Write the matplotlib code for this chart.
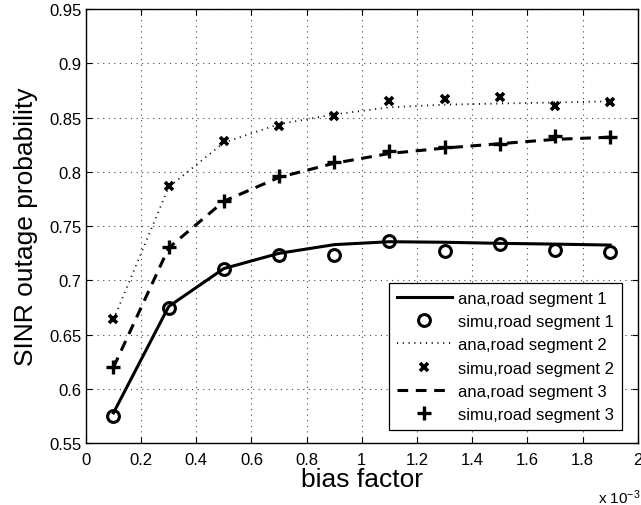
import matplotlib
matplotlib.use("Agg")
import matplotlib.pyplot as plt
from matplotlib.ticker import FormatStrFormatter, MultipleLocator

plt.rcParams["font.family"] = ["Liberation Sans", "DejaVu Sans"]
plt.rcParams["mathtext.default"] = "regular"

# bias factor in units of 1e-3
bias_factor = [0.1, 0.3, 0.5, 0.7, 0.9, 1.1, 1.3, 1.5, 1.7, 1.9]

ana_seg1 = [0.578, 0.676, 0.711, 0.725, 0.733, 0.7357, 0.7352, 0.7342, 0.7335, 0.7326]
simu_seg1 = [0.5754, 0.675, 0.711, 0.7234, 0.7234, 0.7363, 0.7271, 0.7339, 0.7277, 0.7265]
ana_seg2 = [0.664, 0.786, 0.827, 0.844, 0.853, 0.8595, 0.862, 0.863, 0.864, 0.865]
simu_seg2 = [0.6643, 0.787, 0.8289, 0.842, 0.8512, 0.8657, 0.8675, 0.8689, 0.8604, 0.8645]
ana_seg3 = [0.620, 0.730, 0.773, 0.795, 0.808, 0.817, 0.822, 0.826, 0.830, 0.832]
simu_seg3 = [0.6199, 0.7305, 0.773, 0.796, 0.809, 0.819, 0.8227, 0.8261, 0.8329, 0.8323]

fig = plt.figure(figsize=(6.41, 5.06), dpi=100)
ax = fig.add_axes([0.134, 0.122, 0.861, 0.858])

ax.plot(bias_factor, ana_seg1, "k-", lw=2.2, label="ana,road segment 1")
ax.plot(bias_factor, simu_seg1, "ko", ls="none", ms=8.5, mfc="none", mew=2.2,
        label="simu,road segment 1")
ax.plot(bias_factor, ana_seg2, "k", ls=(0, (0.6, 2.6)), lw=1.3, label="ana,road segment 2")
ax.plot(bias_factor, simu_seg2, "kx", ls="none", ms=6, mew=2.6, label="simu,road segment 2")
ax.plot(bias_factor, ana_seg3, "k", ls=(0, (3.5, 2.5)), lw=2.2, label="ana,road segment 3")
ax.plot(bias_factor, simu_seg3, "k+", ls="none", ms=10, mew=2.4, label="simu,road segment 3")

ax.set_xlim(0, 2)
ax.set_ylim(0.55, 0.95)
ax.xaxis.set_major_locator(MultipleLocator(0.2))
ax.yaxis.set_major_locator(MultipleLocator(0.05))
ax.xaxis.set_major_formatter(FormatStrFormatter("%g"))
ax.yaxis.set_major_formatter(FormatStrFormatter("%g"))
ax.tick_params(direction="in", top=True, right=True, labelsize=12, length=4, width=0.8)
ax.tick_params(axis="x", pad=6)
ax.tick_params(axis="y", pad=3)
ax.grid(True, color="#444444", ls=(0, (1, 4)), lw=0.8)
for sp in ax.spines.values():
    sp.set_linewidth(1.0)

ax.set_xlabel("bias factor", fontsize=19, labelpad=0)
ax.set_ylabel("SINR outage probability", fontsize=19, labelpad=8)
fig.text(0.999, 0.004, "x 10$^{-3}$", fontsize=11, ha="right", va="baseline")

leg = ax.legend(loc="lower right", bbox_to_anchor=(0.971, 0.031), fontsize=12,
                handlelength=3.3, labelspacing=0.5, borderpad=0.45,
                handletextpad=0.4, fancybox=False, framealpha=1, borderaxespad=0)
leg.get_frame().set_edgecolor("black")
leg.get_frame().set_linewidth(0.9)

fig.savefig("out.png", dpi=100)
